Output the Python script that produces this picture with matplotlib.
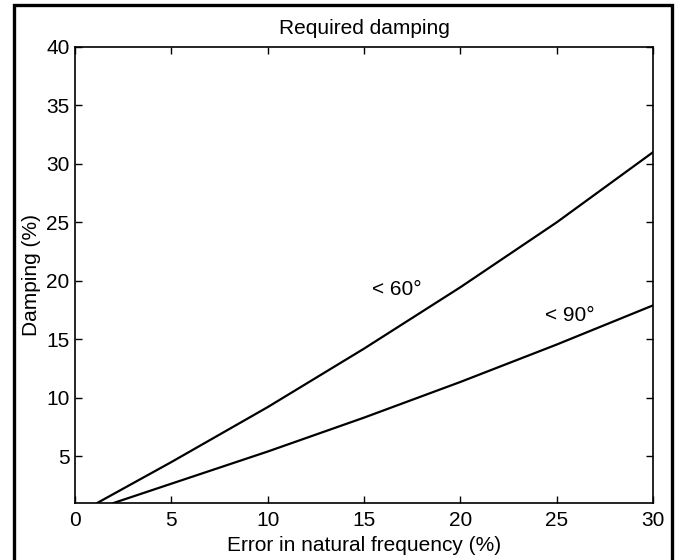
"""
Required damping versus error in natural frequency
"""

import matplotlib
matplotlib.use("Agg")
from matplotlib import pyplot as plt
from matplotlib.patches import Rectangle

plt.rcParams['font.family'] = ['Liberation Sans', 'DejaVu Sans']

# Curve values
freq_60 = [1.15, 5, 10, 15, 20, 25, 30]
damp_60 = [1.0, 4.5, 9.2, 14.2, 19.45, 25.0, 31.0]
freq_90 = [2.0, 5, 10, 15, 20, 25, 30]
damp_90 = [1.0, 2.65, 5.4, 8.3, 11.35, 14.55, 17.9]

xticks = [0, 5, 10, 15, 20, 25, 30]
yticks = [5, 10, 15, 20, 25, 30, 35, 40]

fs = 15

fig = plt.figure(figsize=(6.79, 5.60), dpi=100)
ax = fig.add_axes([0.1105, 0.1018, 0.8512, 0.8143])

ax.plot(freq_60, damp_60, color='black', lw=1.6)
ax.plot(freq_90, damp_90, color='black', lw=1.6)

ax.text(15.4, 19.25, '< 60°', fontsize=fs, va='center', ha='left')
ax.text(24.4, 17.05, '< 90°', fontsize=fs, va='center', ha='left')

ax.set_xlim(0, 30)
ax.set_ylim(1, 40)
ax.set_xticks(xticks)
ax.set_yticks(yticks)
ax.tick_params(direction='in', length=5, width=1, top=True, right=True,
               labelsize=fs)
ax.tick_params(axis='x', pad=6)
ax.tick_params(axis='y', pad=4)
for s in ax.spines.values():
    s.set_linewidth(1.2)

ax.set_title('Required damping', fontsize=fs, pad=9)
ax.set_xlabel('Error in natural frequency (%)', fontsize=fs, labelpad=4)
ax.set_ylabel('Damping (%)', fontsize=fs, labelpad=4)

# thick frame around the whole figure
fig.patches.append(Rectangle((14 / 679, -0.05), 658 / 679, 1.05 - 5 / 560,
                             transform=fig.transFigure, fill=False,
                             edgecolor='black', lw=2.4))

fig.savefig('out.png', dpi=100)
